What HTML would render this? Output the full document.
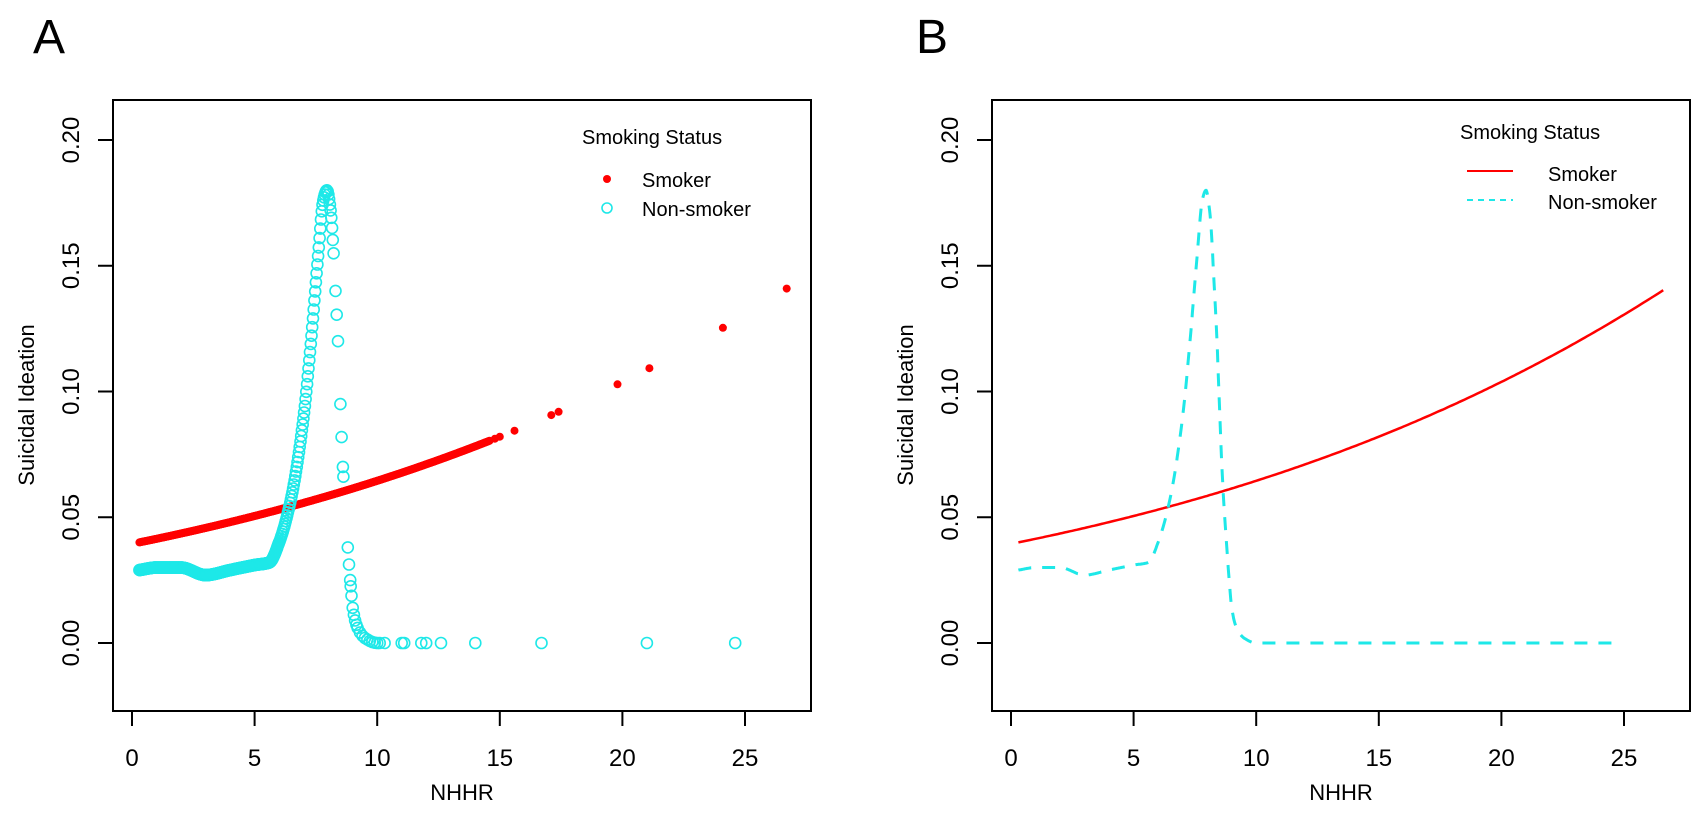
<!DOCTYPE html>
<html><head><meta charset="utf-8"><style>html,body{margin:0;padding:0;background:#fff}svg{display:block}text{font-family:"Liberation Sans",Arial,sans-serif;fill:#000}</style></head>
<body>
<svg id="s" width="1704" height="814" xmlns="http://www.w3.org/2000/svg"></svg>
<script>
const S=document.getElementById('s');let h='';
const Y=v=>643-2515*v;
const ctrl=[[0.3,0.029],[1,0.030],[2,0.030],[3,0.027],[4,0.029],[5,0.031],[5.6,0.032],[6,0.040],[6.5,0.058],[7,0.09],[7.3,0.12],[7.6,0.155],[7.8,0.176],[7.95,0.180],[8.1,0.172],[8.3,0.14],[8.4,0.12],[8.5,0.095],[8.6,0.07],[8.8,0.038],[8.9,0.025],[9.0,0.014],[9.2,0.006],[9.5,0.002],[10,0.0],[30,0]];
// monotone cubic
const n=ctrl.length,xs_=ctrl.map(p=>p[0]),ys_=ctrl.map(p=>p[1]);
const d=[],m=[];for(let i=0;i<n-1;i++)d.push((ys_[i+1]-ys_[i])/(xs_[i+1]-xs_[i]));
m[0]=d[0];m[n-1]=d[n-2];for(let i=1;i<n-1;i++){if(d[i-1]*d[i]<=0)m[i]=0;else{const w1=2*(xs_[i+1]-xs_[i])+(xs_[i]-xs_[i-1]),w2=(xs_[i+1]-xs_[i])+2*(xs_[i]-xs_[i-1]);m[i]=(w1+w2)/(w1/d[i-1]+w2/d[i]);}}
function cy(x){for(let i=0;i<n-1;i++){if(x<=xs_[i+1]){const hh=xs_[i+1]-xs_[i],t=(x-xs_[i])/hh;const h00=2*t*t*t-3*t*t+1,h10=t*t*t-2*t*t+t,h01=-2*t*t*t+3*t*t,h11=t*t*t-t*t;return h00*ys_[i]+h10*hh*m[i]+h01*ys_[i+1]+h11*hh*m[i+1];}}return 0;}
function ry(x){const l=-3.178+0.0519*(x-0.3);return 1/(1+Math.exp(-l));}
function panel(ox,B){
 const L=113+ox,R=811+ox,x0=132+ox;const X=v=>x0+24.52*v;
 h+=`<rect x="${L}" y="100" width="${R-L}" height="611" fill="none" stroke="#000" stroke-width="2"/>`;
 [0,5,10,15,20,25].forEach(v=>{h+=`<line x1="${X(v)}" y1="711" x2="${X(v)}" y2="726" stroke="#000" stroke-width="2"/><text x="${X(v)}" y="766" font-size="24" text-anchor="middle">${v}</text>`});
 [0,0.05,0.1,0.15,0.2].forEach(v=>{h+=`<line x1="${L-15}" y1="${Y(v)}" x2="${L}" y2="${Y(v)}" stroke="#000" stroke-width="2"/><text transform="translate(${79+ox},${Y(v)}) rotate(-90)" font-size="24" text-anchor="middle">${v.toFixed(2)}</text>`});
 h+=`<text x="${(L+R)/2}" y="800" font-size="22" text-anchor="middle">NHHR</text>`;
 h+=`<text transform="translate(${34+ox},405) rotate(-90)" font-size="22" text-anchor="middle">Suicidal Ideation</text>`;
 if(!B){
  let xs=[];for(let x=0.3;x<6;x+=0.02)xs.push(x);for(let x=6;x<8.25;x+=0.03)xs.push(x);
  xs.push(8.3,8.35,8.4,8.5,8.55,8.6,8.62,8.8,8.85,8.9,8.92,8.95,9.0,9.05,9.1,9.15,9.2,9.3,9.4,9.5,9.6,9.7,9.8,9.9,10,10.1,10.3,11,11.1,11.8,12,12.6,14,16.7,21,24.6);
  let rx=[];for(let x=0.3;x<14.6;x+=0.03)rx.push(x);rx.push(14.8,15,15.6,17.1,17.4,19.8,21.1,24.1,26.7);
  rx.forEach(x=>{h+=`<circle cx="${X(x).toFixed(1)}" cy="${Y(ry(x)).toFixed(1)}" r="4" fill="#f00"/>`});
  xs.forEach(x=>{h+=`<circle cx="${X(x).toFixed(1)}" cy="${Y(cy(x)).toFixed(1)}" r="5.5" fill="none" stroke="#1ee8e8" stroke-width="1.6"/>`});
  h+=`<text x="582" y="144" font-size="20">Smoking Status</text><circle cx="607" cy="179" r="4" fill="#f00"/><circle cx="607" cy="208" r="5" fill="none" stroke="#1ee8e8" stroke-width="1.6"/><text x="642" y="187" font-size="20">Smoker</text><text x="642" y="216" font-size="20">Non-smoker</text>`;
 }else{
  let p=[];for(let x=0.3;x<=26.7;x+=0.1)p.push(X(x).toFixed(1)+','+Y(ry(x)).toFixed(1));
  h+=`<polyline points="${p.join(' ')}" fill="none" stroke="#f00" stroke-width="2.5"/>`;
  p=[];for(let x=0.3;x<=24.5;x+=0.02)p.push(X(x).toFixed(1)+','+Y(cy(x)).toFixed(1));
  h+=`<polyline points="${p.join(' ')}" fill="none" stroke="#1ee8e8" stroke-width="3" stroke-dasharray="13 11"/>`;
  h+=`<text x="1460" y="139" font-size="20">Smoking Status</text><line x1="1467" y1="171" x2="1513" y2="171" stroke="#f00" stroke-width="2"/><line x1="1467" y1="200" x2="1513" y2="200" stroke="#1ee8e8" stroke-width="2" stroke-dasharray="6 5"/><text x="1548" y="181" font-size="20">Smoker</text><text x="1548" y="209" font-size="20">Non-smoker</text>`;
 }
}
panel(0,false);panel(879,true);
h+=`<text x="33" y="53" font-size="48">A</text><text x="916" y="53" font-size="48">B</text>`;
S.innerHTML=h;
</script>
</body></html>
